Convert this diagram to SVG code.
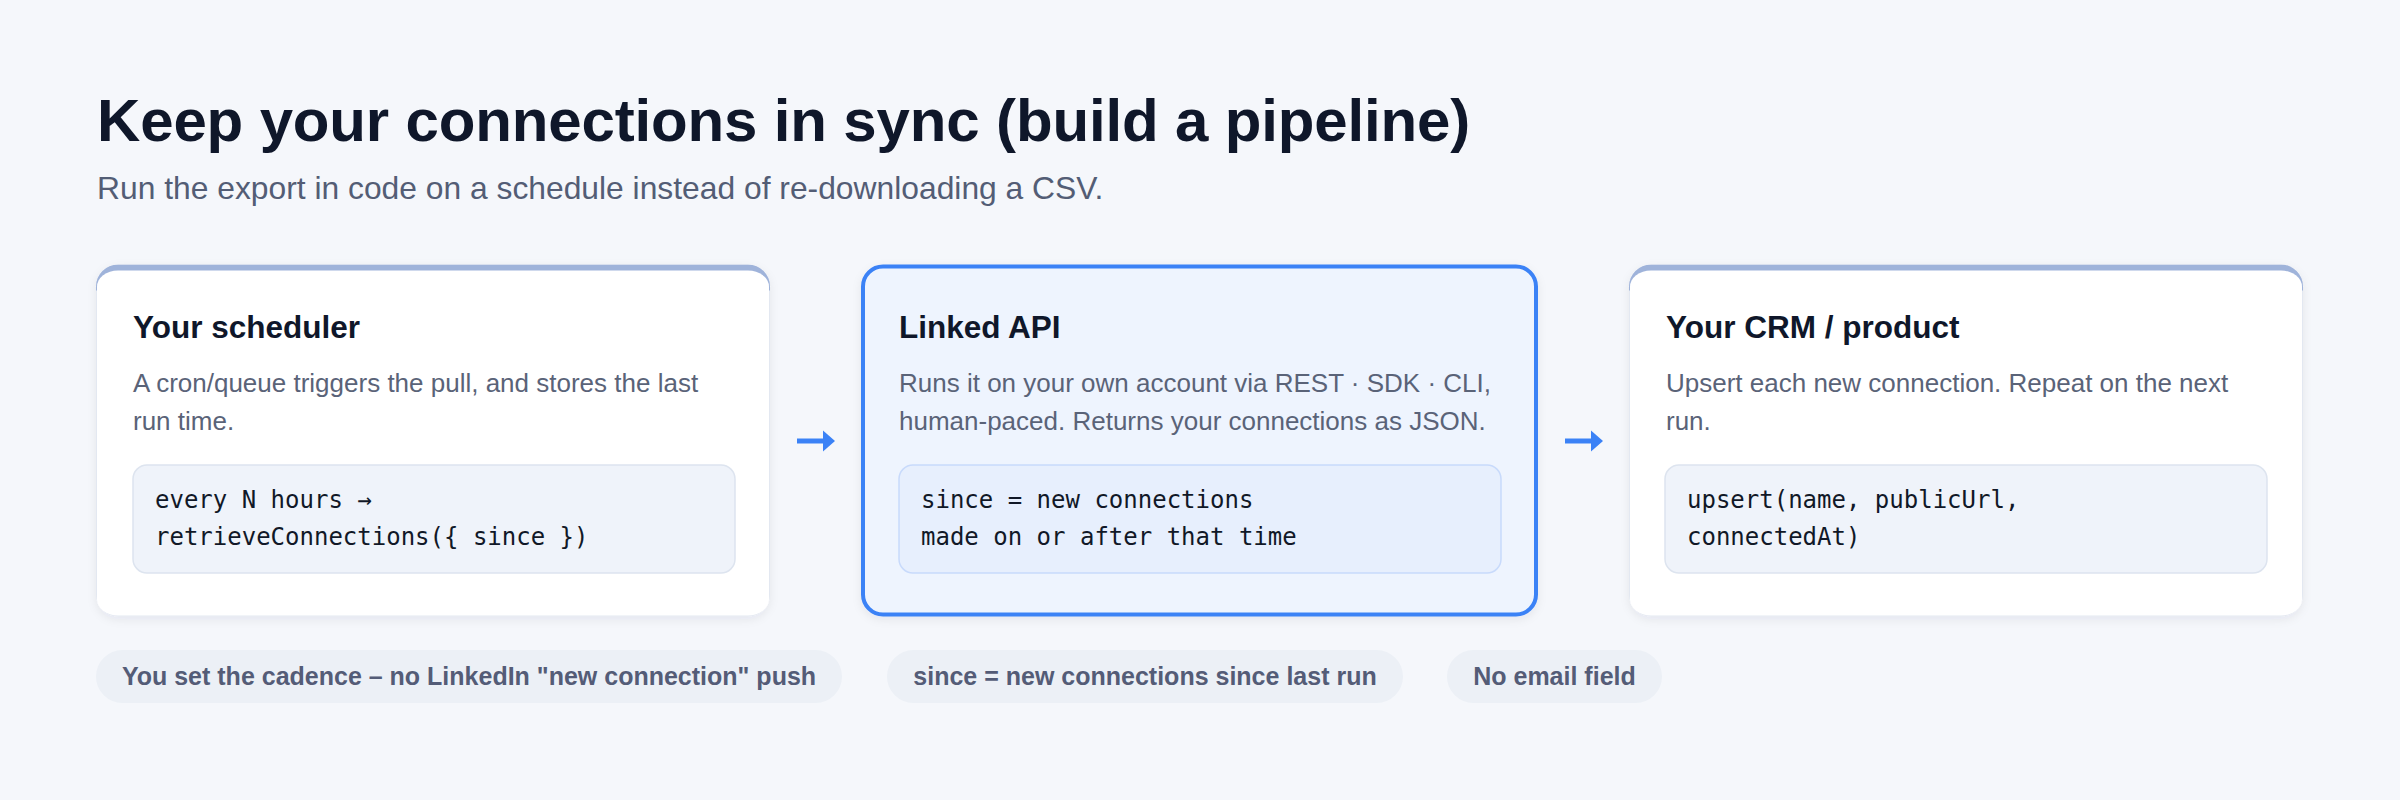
<svg xmlns="http://www.w3.org/2000/svg" width="2400" height="800" viewBox="0 0 2400 800">
  <style>
    .title { font-family: "Liberation Sans", Arial, Helvetica, sans-serif; font-weight: 700; font-size: 60px; fill: #0f172a; letter-spacing: -0.15px; }
    .subtitle { font-family: "Liberation Sans", Arial, Helvetica, sans-serif; font-size: 31.8px; fill: #535d75; }
    .ctitle { font-family: "Liberation Sans", Arial, Helvetica, sans-serif; font-weight: 700; font-size: 31.5px; fill: #0f172a; }
    .desc { font-family: "Liberation Sans", Arial, Helvetica, sans-serif; font-size: 26px; fill: #5a6378; }
    .code { font-family: "DejaVu Sans Mono", "Liberation Mono", monospace; font-size: 24px; fill: #111827; }
    .chip { fill: #ecf0f6; }
    .chiptext { font-family: "Liberation Sans", Arial, Helvetica, sans-serif; font-weight: 700; font-size: 25px; fill: #545c77; text-anchor: middle; }
    .codebox { fill: #eff3fa; stroke: #dde4ef; stroke-width: 1.5; }
    .codebox-blue { fill: #e7effd; stroke: #c8dafb; stroke-width: 1.5; }
    .arrow-line { stroke: #3b82f6; stroke-width: 5; fill: none; }
    .arrow-head { fill: #3b82f6; }
  </style>
  <defs>
    <filter id="shadow" x="-10%" y="-10%" width="120%" height="130%">
      <feDropShadow dx="0" dy="3" stdDeviation="5" flood-color="#1e293b" flood-opacity="0.07"/>
    </filter>
    <clipPath id="clip1"><rect x="96" y="264.5" width="674" height="352" rx="22" ry="22"/></clipPath>
    <clipPath id="clip3"><rect x="1629" y="264.5" width="674" height="352" rx="22" ry="22"/></clipPath>
  </defs>

  <rect x="0" y="0" width="2400" height="800" fill="#f5f7fb"/>

  <g id="header">
    <text class="title" x="97" y="141">Keep your connections in sync (build a pipeline)</text>
    <text class="subtitle" x="97" y="199">Run the export in code on a schedule instead of re-downloading a CSV.</text>
  </g>

  <g id="node-scheduler">
    <rect x="96" y="264.5" width="674" height="352" rx="22" ry="22" fill="#e3e8f1" filter="url(#shadow)"/>
    <rect x="96" y="264.5" width="674" height="26" fill="#9fb3da" clip-path="url(#clip1)"/>
    <rect x="97" y="270.5" width="672" height="345" rx="21" ry="16" fill="#ffffff"/>
    <text class="ctitle" x="133" y="338">Your scheduler</text>
    <text class="desc" x="133" y="392">A cron/queue triggers the pull, and stores the last</text>
    <text class="desc" x="133" y="430">run time.</text>
    <rect class="codebox" x="133" y="465" width="602" height="108" rx="14" ry="14"/>
    <text class="code" x="155" y="508">every N hours →</text>
    <text class="code" x="155" y="545">retrieveConnections({ since })</text>
  </g>

  <g id="node-linked-api">
    <rect x="863" y="266.5" width="673" height="348" rx="20" ry="20" fill="#eef4fe" stroke="#3b82f6" stroke-width="4" filter="url(#shadow)"/>
    <text class="ctitle" x="899" y="338">Linked API</text>
    <text class="desc" x="899" y="392">Runs it on your own account via REST · SDK · CLI,</text>
    <text class="desc" x="899" y="430">human-paced. Returns your connections as JSON.</text>
    <rect class="codebox-blue" x="899" y="465" width="602" height="108" rx="14" ry="14"/>
    <text class="code" x="921" y="508">since = new connections</text>
    <text class="code" x="921" y="545">made on or after that time</text>
  </g>

  <g id="node-crm">
    <rect x="1629" y="264.5" width="674" height="352" rx="22" ry="22" fill="#e3e8f1" filter="url(#shadow)"/>
    <rect x="1629" y="264.5" width="674" height="26" fill="#9fb3da" clip-path="url(#clip3)"/>
    <rect x="1630" y="270.5" width="672" height="345" rx="21" ry="16" fill="#ffffff"/>
    <text class="ctitle" x="1666" y="338">Your CRM / product</text>
    <text class="desc" x="1666" y="392">Upsert each new connection. Repeat on the next</text>
    <text class="desc" x="1666" y="430">run.</text>
    <rect class="codebox" x="1665" y="465" width="602" height="108" rx="14" ry="14"/>
    <text class="code" x="1687" y="508">upsert(name, publicUrl,</text>
    <text class="code" x="1687" y="545">connectedAt)</text>
  </g>

  <g id="connectors">
    <line class="arrow-line" x1="797" y1="441" x2="825" y2="441"/>
    <polygon class="arrow-head" points="823,430.5 835,441 823,451.5"/>
    <line class="arrow-line" x1="1565" y1="441" x2="1593" y2="441"/>
    <polygon class="arrow-head" points="1591,430.5 1603,441 1591,451.5"/>
  </g>

  <g id="chip-cadence">
    <rect class="chip" x="96" y="650" width="746" height="53" rx="26.5" ry="26.5"/>
    <text class="chiptext" x="469" y="685">You set the cadence – no LinkedIn "new connection" push</text>
  </g>
  <g id="chip-since">
    <rect class="chip" x="887" y="650" width="516" height="53" rx="26.5" ry="26.5"/>
    <text class="chiptext" x="1145" y="685">since = new connections since last run</text>
  </g>
  <g id="chip-email">
    <rect class="chip" x="1447" y="650" width="215" height="53" rx="26.5" ry="26.5"/>
    <text class="chiptext" x="1554.5" y="685">No email field</text>
  </g>
</svg>
